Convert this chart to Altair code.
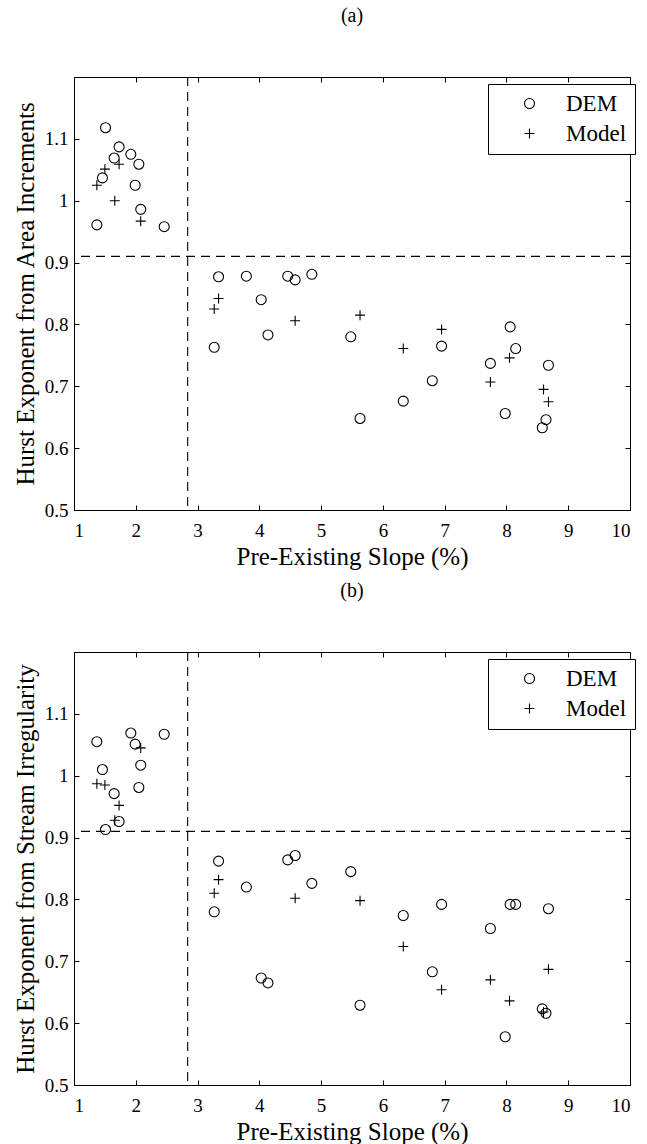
import altair as alt
import pandas as pd

# ---------------- data ----------------
x_ticks = [1, 2, 3, 4, 5, 6, 7, 8, 9, 10]
y_ticks = [0.5, 0.6, 0.7, 0.8, 0.9, 1.0, 1.1]
slope_threshold = [2.84]
hurst_threshold = [0.91]

dem_slope = [1.37, 1.46, 1.51, 1.65, 1.73, 1.92, 1.99, 2.05, 2.08, 2.46,
             3.27, 3.34, 3.79, 4.03, 4.14, 4.46, 4.58, 4.85, 5.48, 5.63,
             6.33, 6.80, 6.95, 7.74, 7.98, 8.06, 8.15, 8.58, 8.64, 8.68]
dem_hurst_a = [0.961, 1.037, 1.118, 1.069, 1.087, 1.075, 1.025, 1.059, 0.986, 0.958,
               0.763, 0.877, 0.878, 0.840, 0.783, 0.878, 0.872, 0.881, 0.780, 0.648,
               0.676, 0.709, 0.765, 0.737, 0.656, 0.796, 0.761, 0.633, 0.646, 0.734]
dem_hurst_b = [1.055, 1.010, 0.913, 0.971, 0.926, 1.069, 1.051, 0.981, 1.017, 1.067,
               0.780, 0.862, 0.820, 0.673, 0.665, 0.864, 0.871, 0.826, 0.845, 0.629,
               0.774, 0.683, 0.792, 0.753, 0.578, 0.792, 0.792, 0.623, 0.616, 0.785]

model_slope = [1.37, 1.50, 1.66, 1.73, 2.08, 3.27, 3.34, 4.58, 5.63, 6.33,
               6.95, 7.74, 8.05, 8.60, 8.68]
model_hurst_a = [1.025, 1.051, 1.000, 1.059, 0.967, 0.825, 0.842, 0.806, 0.815, 0.761,
                 0.792, 0.707, 0.746, 0.695, 0.675]
model_hurst_b = [0.987, 0.985, 0.928, 0.952, 1.045, 0.810, 0.832, 0.802, 0.798, 0.724,
                 0.654, 0.670, 0.636, 0.618, 0.687]

series_names = ["DEM", "Model"]
x_title = "Pre-Existing Slope (%)"

# ---------------- styling ----------------
FONT = "Liberation Serif"
PLUS = "M-1,0L1,0M0,-1L0,1"
W, H = 556, 433
x_scale = alt.Scale(domain=[1, 10], nice=False, zero=False)
y_scale = alt.Scale(domain=[0.5, 1.2], nice=False, zero=False)
INWARD = {"expr": "-5"}

def axis_common(**kw):
    base = dict(grid=False, domainColor="black", domainWidth=1, tickColor="black",
                tickSize=INWARD, tickWidth=1, labelFont=FONT, labelFontSize=19,
                labelColor="black", titleFont=FONT, titleFontSize=25,
                titleColor="black", titleFontWeight="normal")
    base.update(kw)
    return alt.Axis(**base)


def panel(tag, y_title, dem_y, model_y):
    df = pd.concat([
        pd.DataFrame({"series": series_names[0], "slope": dem_slope, "hurst": dem_y}),
        pd.DataFrame({"series": series_names[1], "slope": model_slope, "hurst": model_y}),
    ])
    points = alt.Chart(df).mark_point(filled=False, color="black", size=100,
                                      strokeWidth=1.1, opacity=1).encode(
        x=alt.X("slope:Q", scale=x_scale,
                axis=axis_common(orient="bottom", values=x_ticks, format="d",
                                 labelPadding=16, title=x_title, titlePadding=4)),
        y=alt.Y("hurst:Q", scale=y_scale,
                axis=axis_common(orient="left", values=y_ticks, format="~g",
                                 labelPadding=11, title=y_title, titlePadding=6)),
        shape=alt.Shape("series:N",
                        scale=alt.Scale(domain=series_names, range=["circle", PLUS]),
                        legend=alt.Legend(title=None, orient="none", legendX=414, legendY=7,
                                          fillColor="white", strokeColor="black",
                                          padding=8, symbolOffset=22, labelOffset=25,
                                          rowPadding=6, labelFont=FONT, labelFontSize=23,
                                          labelColor="black", symbolSize=100,
                                          symbolStrokeWidth=1.1,
                                          symbolStrokeColor="black")),
    )
    vline = alt.Chart(pd.DataFrame({"slope": slope_threshold})).mark_rule(
        color="black", strokeDash=[9, 6], strokeWidth=1.1).encode(
        x=alt.X("slope:Q", scale=x_scale,
                axis=axis_common(orient="top", values=x_ticks, labels=False, title=None)))
    hline = alt.Chart(pd.DataFrame({"hurst": hurst_threshold})).mark_rule(
        color="black", strokeDash=[9, 6], strokeWidth=1.1).encode(
        y=alt.Y("hurst:Q", scale=y_scale,
                axis=axis_common(orient="right", values=y_ticks, labels=False, title=None)))
    return alt.layer(points, vline, hline).resolve_axis(
        x="independent", y="independent").properties(
        width=W, height=H,
        title=alt.TitleParams(tag, font=FONT, fontSize=20, fontWeight="normal",
                              color="black", anchor="middle", offset=50))


top = panel("(a)", "Hurst Exponent from Area Increments", dem_hurst_a, model_hurst_a)
bottom = panel("(b)", "Hurst Exponent from Stream Irregularity", dem_hurst_b, model_hurst_b)

chart = alt.vconcat(top, bottom, spacing=10).resolve_scale(shape="independent").properties(
    padding={"left": 12, "top": 5, "right": 5, "bottom": 5}
).configure_view(stroke="black", strokeWidth=1).configure(background="white")

chart.save("out.html", embed_options={"renderer": "svg", "actions": False})
